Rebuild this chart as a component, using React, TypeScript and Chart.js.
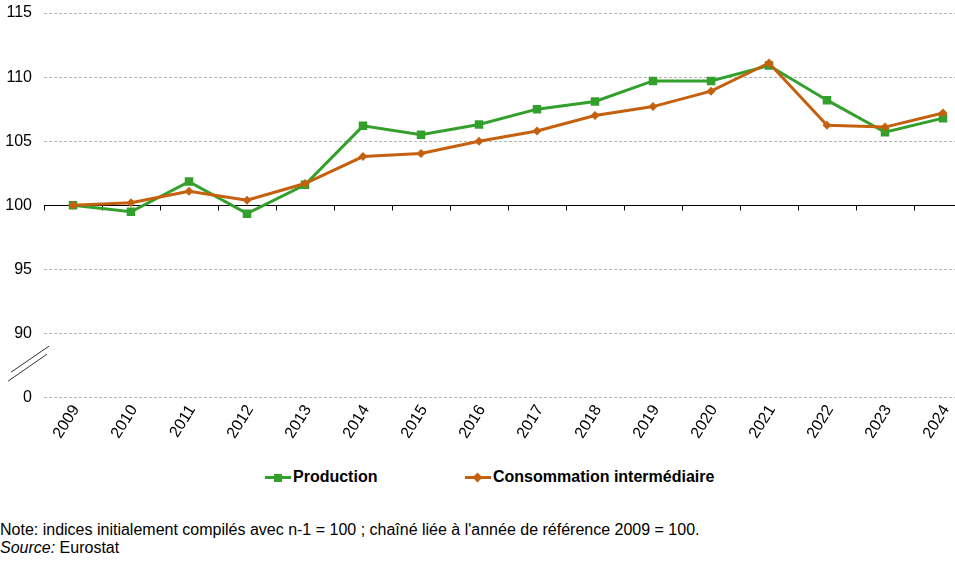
import React, { useEffect, useRef } from 'react';
import { Chart, registerables } from 'chart.js';

Chart.register(...registerables);

const years = ['2009', '2010', '2011', '2012', '2013', '2014', '2015', '2016', '2017', '2018', '2019', '2020', '2021', '2022', '2023', '2024'];
const production = [100, 99.5, 101.85, 99.35, 101.6, 106.2, 105.5, 106.3, 107.5, 108.1, 109.7, 109.7, 110.9, 108.2, 105.7, 106.8];
const consommation = [100, 100.2, 101.1, 100.4, 101.7, 103.8, 104.05, 105.0, 105.8, 107.0, 107.7, 108.9, 111.1, 106.25, 106.1, 107.2];
const yTickValues = [85, 90, 95, 100, 105, 110, 115];
const yTickLabels = ['0', '90', '95', '100', '105', '110', '115'];
const seriesNames = ['Production', 'Consommation intermédiaire'];
const noteText = "Note: indices initialement compilés avec n-1 = 100 ; chaîné liée à l'année de référence 2009 = 100.";
const sourceText = 'Eurostat';

const GREEN = '#33a02c';
const ORANGE = '#c5600f';
const FONT = "'Liberation Sans', Arial, sans-serif";

const axisPlugin = {
  id: 'axisDecor',
  beforeDatasetsDraw(chart: any) {
    const { ctx, chartArea, scales } = chart;
    const x = scales.x;
    const y = scales.y;
    const yb = Math.round(y.getPixelForValue(100)) + 0.5;
    ctx.save();
    ctx.strokeStyle = '#000';
    ctx.lineWidth = 1;
    ctx.beginPath();
    ctx.moveTo(chartArea.left, yb);
    ctx.lineTo(chartArea.right, yb);
    const n = years.length;
    const step = (x.getPixelForValue(n - 1) - x.getPixelForValue(0)) / (n - 1);
    for (let i = 0; i <= n; i++) {
      const px = Math.round(x.getPixelForValue(0) - step / 2 + i * step) + 0.5;
      ctx.moveTo(px, yb);
      ctx.lineTo(px, yb + 5);
    }
    ctx.stroke();
    ctx.restore();
  },
  afterDraw(chart: any) {
    const { ctx, chartArea, scales } = chart;
    const y = scales.y;
    const cy = y.getPixelForValue(88);
    const l = chartArea.left;
    ctx.save();
    ctx.strokeStyle = '#333';
    ctx.lineWidth = 1;
    ctx.beginPath();
    ctx.moveTo(l - 33, cy + 13);
    ctx.lineTo(l + 5, cy - 13);
    ctx.moveTo(l - 36, cy + 22);
    ctx.lineTo(l + 3, cy - 5);
    ctx.stroke();
    ctx.restore();
  },
};

function App() {
  const ref = useRef<HTMLCanvasElement | null>(null);
  useEffect(() => {
    if (!ref.current) return;
    const chart = new Chart(ref.current, {
      type: 'line',
      data: {
        labels: years,
        datasets: [
          {
            label: seriesNames[0],
            data: production,
            borderColor: GREEN,
            backgroundColor: GREEN,
            borderWidth: 3,
            pointStyle: 'rect',
            pointRadius: 6,
            pointBorderWidth: 0,
            tension: 0,
            order: 2,
          },
          {
            label: seriesNames[1],
            data: consommation,
            borderColor: ORANGE,
            backgroundColor: ORANGE,
            borderWidth: 3,
            pointStyle: 'rectRot',
            pointRadius: 4.5,
            pointBorderWidth: 0,
            tension: 0,
            order: 1,
          },
        ],
      },
      options: {
        responsive: false,
        animation: false,
        layout: { padding: { left: 5, top: 13, right: 3, bottom: 14 } },
        plugins: { legend: { display: false }, tooltip: { enabled: false } },
        scales: {
          x: {
            offset: true,
            grid: { display: false, drawTicks: false },
            border: { display: false },
            afterFit(scale: any) {
              scale.paddingLeft = 0;
              scale.paddingRight = 0;
            },
            ticks: {
              color: '#000',
              font: { family: FONT, size: 16 },
              minRotation: 58,
              maxRotation: 58,
              padding: 4,
              labelOffset: 3,
              autoSkip: false,
            },
          },
          y: {
            min: 85,
            max: 115,
            afterBuildTicks(scale: any) {
              scale.ticks = yTickValues.map((v) => ({ value: v }));
            },
            afterFit(scale: any) {
              scale.width = 39;
              scale.paddingTop = 0;
              scale.paddingBottom = 0;
            },
            grid: {
              color: '#b4b4b4',
              lineWidth: 1,
              drawTicks: false,
            },
            border: { display: false, dash: [3, 2] },
            ticks: {
              color: '#000',
              font: { family: FONT, size: 16 },
              padding: 12,
              callback: (v: any) => {
                const i = yTickValues.indexOf(Number(v));
                return i >= 0 ? yTickLabels[i] : '';
              },
            },
          },
        },
      },
      plugins: [axisPlugin],
    });
    return () => chart.destroy();
  }, []);

  const legendItem = (name: string, color: string, diamond: boolean, left: number) => (
    <div style={{ position: 'absolute', left, top: 467, height: 20, display: 'flex', alignItems: 'center' }}>
      <div style={{ position: 'relative', width: 26, height: 20 }}>
        <div style={{ position: 'absolute', left: 0, top: 9, width: 26, height: 3, background: color }} />
        {diamond ? (
          <div style={{ position: 'absolute', left: 9, top: 6.5, width: 7, height: 7, background: color, transform: 'rotate(45deg)' }} />
        ) : (
          <div style={{ position: 'absolute', left: 8.5, top: 6.5, width: 8, height: 8, background: color }} />
        )}
      </div>
      <span style={{ marginLeft: 2, font: `bold 16px ${FONT}`, color: '#000', whiteSpace: 'nowrap' }}>{name}</span>
    </div>
  );

  return (
    <div style={{ position: 'fixed', left: 0, top: 0, width: 955, height: 577, overflow: 'hidden', background: '#fff' }}>
      <canvas ref={ref} width={978} height={460} style={{ position: 'absolute', left: 0, top: 0 }} />
      {legendItem(seriesNames[0], GREEN, false, 265)}
      {legendItem(seriesNames[1], ORANGE, true, 465)}
      <div style={{ position: 'absolute', left: 0, top: 521, font: `16px ${FONT}`, lineHeight: '18px', color: '#000', whiteSpace: 'nowrap' }}>
        <div>{noteText}</div>
        <div><i>Source:</i> {sourceText}</div>
      </div>
    </div>
  );
}

export default App;
